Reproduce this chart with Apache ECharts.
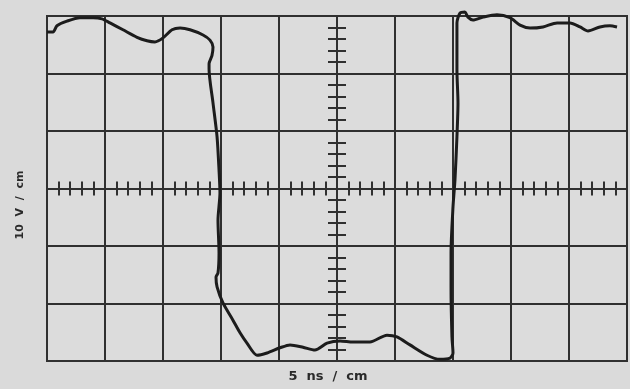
<!DOCTYPE html>
<html>
<head>
<meta charset="utf-8">
<script src="https://cdn.jsdelivr.net/npm/echarts@6/dist/echarts.min.js"></script>
<style>
  html, body { margin: 0; padding: 0; background: #dadada; }
  #scope { width: 630px; height: 389px; }
</style>
</head>
<body>
<div id="scope"></div>
<script>
  // trace: time in ns (0 = screen centre), voltage in V
  var traceTime = [
    -25.0, -24.48, -24.14, -23.28, -22.16, -21.03, -20.26, -19.57, -18.45, -17.24,
    -16.38, -15.69, -15.0, -14.22, -13.53, -12.67, -11.55, -10.95, -10.69, -10.78,
    -11.03, -11.03, -10.69, -10.34, -10.17, -10.09, -10.26, -10.17, -10.26, -10.43,
    -10.34, -9.83, -8.97, -8.36, -7.76, -6.90, -6.03, -4.91, -4.05, -2.93,
    -1.90, -0.86, 0.26, 1.38, 2.84, 4.31, 5.17, 6.29, 7.76, 8.88,
    9.74, 10.0, 9.91, 9.83, 9.83, 10.0, 10.17, 10.34, 10.43, 10.34,
    10.34, 10.34, 10.60, 11.03, 11.29, 11.72, 12.59, 13.79, 14.91, 15.78,
    16.64, 17.76, 18.97, 20.09, 20.95, 21.64, 22.67, 23.53, 24.14
  ];
  var traceVolt = [
    27.2, 27.2, 28.3, 29.1, 29.7, 29.7, 29.5, 28.8, 27.6, 26.3,
    25.7, 25.5, 26.2, 27.6, 27.9, 27.6, 26.7, 25.8, 24.6, 23.1,
    21.7, 20.8, 14.9, 9.0, 3.2, -0.8, -5.5, -11.2, -14.7, -15.4,
    -17.1, -19.9, -22.9, -25.1, -26.9, -29.0, -28.6, -27.7, -27.2, -27.6,
    -28.1, -26.9, -26.5, -26.7, -26.7, -25.5, -25.8, -27.2, -29.0, -29.7,
    -29.5, -28.6, -25.8, -17.1, -11.2, -3.2, 1.5, 9.0, 14.9, 20.6,
    25.8, 28.8, 30.5, 30.7, 29.8, 29.3, 29.8, 30.2, 29.7, 28.4,
    27.9, 28.1, 28.8, 28.8, 28.1, 27.4, 28.1, 28.3, 28.1
  ];
  var timeRange = [-25, 25];   // 10 cm at 5 ns/cm
  var voltRange = [-30, 30];   // 6 cm at 10 V/cm

  var ink = '#303030';
  var points = traceTime.map(function (t, i) { return [t, traceVolt[i]]; });

  function centreAxis(dim, position, tickLen) {
    var ax = {
      type: 'value',
      position: position,
      min: dim === 'x' ? timeRange[0] : voltRange[0],
      max: dim === 'x' ? timeRange[1] : voltRange[1],
      interval: dim === 'x' ? 5 : 10,
      axisLine: { show: true, onZero: true, lineStyle: { color: ink, width: 2 } },
      axisTick: { show: false },
      minorTick: { show: true, splitNumber: 5, length: tickLen, lineStyle: { color: ink, width: 2 } },
      axisLabel: { show: false },
      splitLine: { show: false }
    };
    return ax;
  }

  var xMain = centreAxis('x', 'bottom', 7);
  xMain.splitLine = { show: true, lineStyle: { color: ink, width: 2 } };
  var yMain = centreAxis('y', 'left', 9);
  yMain.splitLine = { show: true, lineStyle: { color: ink, width: 2 } };

  var chart = echarts.init(document.getElementById('scope'));
  chart.setOption({
    backgroundColor: '#dadada',
    animation: false,
    grid: {
      left: 47, right: 3, top: 16, bottom: 28,
      show: true, borderColor: ink, borderWidth: 2,
      backgroundColor: '#dcdcdc',
      outerBoundsMode: 'none'
    },
    xAxis: [xMain, centreAxis('x', 'top', 7)],
    yAxis: [yMain, centreAxis('y', 'right', 9)],
    graphic: [
      {
        type: 'text', x: 328, y: 377,
        style: {
          text: '5  ns  /  cm', fill: '#2a2a2a',
          font: 'bold 13px "DejaVu Sans", sans-serif',
          align: 'center', verticalAlign: 'middle'
        }
      },
      {
        type: 'text', x: 20, y: 205, rotation: Math.PI / 2,
        style: {
          text: '10  V  /  cm', fill: '#2a2a2a',
          font: 'bold 11px "DejaVu Sans", sans-serif',
          align: 'center', verticalAlign: 'middle'
        }
      }
    ],
    series: [{
      type: 'line',
      data: points,
      showSymbol: false,
      smooth: 0.25,
      clip: false,
      lineStyle: { color: '#1c1c1c', width: 3 }
    }]
  });
</script>
</body>
</html>
